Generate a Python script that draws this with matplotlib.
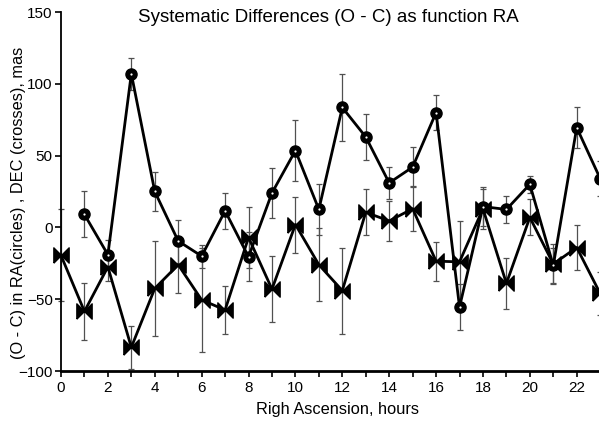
import numpy as np
import matplotlib.pyplot as plt

plt.rcParams['font.family'] = ['Liberation Sans', 'DejaVu Sans']

# RA residuals (circles), hours 1..23
ra_x = [1, 2, 3, 4, 5, 6, 7, 8, 9, 10, 11, 12, 13, 14, 15, 16, 17, 18, 19, 20, 21, 22, 23]
ra_y = [9, -19, 107, 25, -9.5, -20, 11.5, -20.5, 24, 53.5, 12.5, 83.5, 63, 31, 42, 80, -55.5,
        14.5, 12.5, 30, -26.5, 69.5, 34]
ra_err = [16, 10, 11, 13.5, 15, 8, 12.5, 17, 17.5, 21.5, 18, 23, 16, 11, 14, 12, 16,
          13.5, 9.5, 6, 12, 14, 12]

# DEC residuals (crosses), hours 0..23
dec_x = [0, 1, 2, 3, 4, 5, 6, 7, 8, 9, 10, 11, 12, 13, 14, 15, 16, 17, 18, 19, 20, 21, 22, 23]
dec_y = [-19.5, -58.5, -27.5, -83.5, -42.5, -26, -50.5, -57.5, -7, -43, 2, -26, -44, 10.5, 4.5,
         13, -23.5, -24, 13, -39, 7, -25.5, -14, -46]
dec_err = [32, 20, 10, 15, 33, 20, 36, 17, 21, 23, 19.5, 25.5, 30, 16, 14, 15.5, 13.5, 28.5,
           14, 18, 12.5, 14, 16, 15]

W, H = 599, 423
fig = plt.figure(figsize=(W / 100, H / 100), dpi=100)
ax = fig.add_axes([61 / W, 1 - 371 / H, (599 - 61) / W, (371 - 12) / H])

bowtie = [(-1, -1), (1, 1), (1, -1), (-1, 1), (-1, -1)]

ax.errorbar(dec_x, dec_y, yerr=dec_err, fmt='none', ecolor='#505050', elinewidth=0.9,
            capsize=2.3, capthick=0.9, clip_on=False, zorder=2)
ax.errorbar(ra_x, ra_y, yerr=ra_err, fmt='none', ecolor='#505050', elinewidth=0.9,
            capsize=2.3, capthick=0.9, clip_on=False, zorder=2)

ax.plot(dec_x, dec_y, color='black', lw=2.0, marker=bowtie, ms=11, mfc='black', mec='black',
        clip_on=False, zorder=3)
ax.plot(ra_x, ra_y, color='black', lw=2.0, marker='o', ms=8, mfc='black', mec='black',
        clip_on=False, zorder=4)
ax.plot(ra_x, ra_y, ls='none', marker='o', ms=1.6, mfc='white', mec='none',
        clip_on=False, zorder=5)

ax.set_xlim(0, 22.95)
ax.set_ylim(-100, 150)
ax.set_xticks(np.arange(0, 23, 2))
ax.set_xticks(np.arange(0, 23, 1), minor=True)
ax.set_yticks([-100, -50, 0, 50, 100, 150])

for s in ['top', 'right']:
    ax.spines[s].set_visible(False)
ax.spines['bottom'].set_linewidth(2.0)
ax.spines['left'].set_linewidth(1.3)
ax.tick_params(axis='both', which='both', direction='out', length=4, width=1.2,
               labelsize=11, color='black')
ax.tick_params(axis='y', pad=2)
ax.tick_params(axis='x', pad=3)

fig.text(338 / W, 1 - 409 / H, 'Righ Ascension, hours', ha='center', va='center',
         fontsize=11.8)
fig.text(19 / W, 1 - 203 / H, '(O - C) in RA(circles) , DEC (crosses), mas', rotation=90,
         ha='center', va='center', fontsize=11.8)
fig.text(328 / W, 1 - 18 / H, 'Systematic Differences (O - C) as function RA',
         ha='center', va='center', fontsize=13.5)

fig.savefig('out.png', dpi=100)
